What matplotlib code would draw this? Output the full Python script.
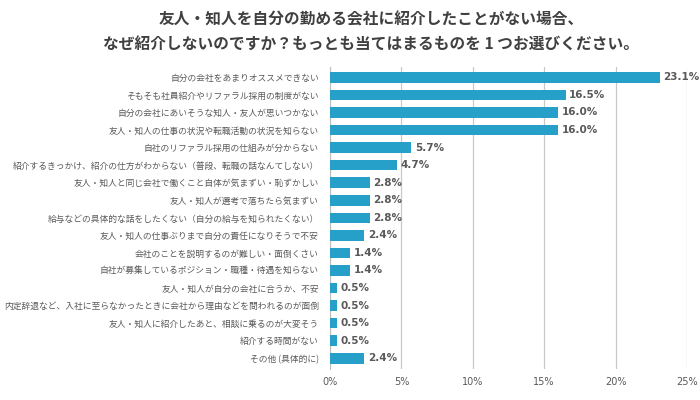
import matplotlib
matplotlib.use("Agg")
import matplotlib.pyplot as plt
from matplotlib.ticker import FuncFormatter

plt.rcParams['font.family'] = ['Noto Sans CJK JP', 'DejaVu Sans']

categories = [
    "自分の会社をあまりオススメできない",
    "そもそも社員紹介やリファラル採用の制度がない",
    "自分の会社にあいそうな知人・友人が思いつかない",
    "友人・知人の仕事の状況や転職活動の状況を知らない",
    "自社のリファラル採用の仕組みが分からない",
    "紹介するきっかけ、紹介の仕方がわからない（普段、転職の話なんてしない）",
    "友人・知人と同じ会社で働くこと自体が気まずい・恥ずかしい",
    "友人・知人が選考で落ちたら気まずい",
    "給与などの具体的な話をしたくない（自分の給与を知られたくない）",
    "友人・知人の仕事ぶりまで自分の責任になりそうで不安",
    "会社のことを説明するのが難しい・面倒くさい",
    "自社が募集しているポジション・職種・待遇を知らない",
    "友人・知人が自分の会社に合うか、不安",
    "内定辞退など、入社に至らなかったときに会社から理由などを問われるのが面倒",
    "友人・知人に紹介したあと、相談に乗るのが大変そう",
    "紹介する時間がない",
    "その他 (具体的に)",
]
values = [23.1, 16.5, 16.0, 16.0, 5.7, 4.7, 2.8, 2.8, 2.8, 2.4, 1.4, 1.4, 0.5, 0.5, 0.5, 0.5, 2.4]
xticks = [0, 5, 10, 15, 20, 25]
title = "友人・知人を自分の勤める会社に紹介したことがない場合、\nなぜ紹介しないのですか？もっとも当てはまるものを 1 つお選びください。"

bar_color = "#26A0C8"
text_color = "#595959"

fig = plt.figure(figsize=(7, 4), dpi=100)
ax = fig.add_axes([0.4714, 0.078, 0.51, 0.755])

y = list(range(len(categories)))
ax.barh(y, values, height=0.6, color=bar_color, zorder=3)
ax.set_yticks(y)
ax.set_yticklabels(categories, fontsize=6.3, color=text_color)
ax.set_ylim(len(categories) - 0.4, -0.6)
ax.set_xlim(0, 25)
ax.set_xticks(xticks)
ax.xaxis.set_major_formatter(FuncFormatter(lambda v, p: f"{int(v)}%"))
for lbl in ax.get_xticklabels():
    lbl.set_fontfamily('DejaVu Sans')
ax.tick_params(axis='x', labelsize=7, colors=text_color, length=0, pad=6)
ax.tick_params(axis='y', length=0, pad=8)
ax.grid(axis='x', color="#C8C8C8", linewidth=0.9, zorder=0)
for s in ['top', 'right', 'bottom']:
    ax.spines[s].set_visible(False)
ax.spines['left'].set_color("#BFBFBF")

for yi, v in zip(y, values):
    ax.text(v + 0.25, yi, f"{v:.1f}%", va='center', ha='left', fontsize=7.5,
            fontweight='bold', color=text_color, family='DejaVu Sans', zorder=4)

fig.text(0.53, 0.92, title, ha='center', va='center', fontsize=11.3,
         fontweight='bold', color="#404040", linespacing=1.7)

fig.savefig("out.png", dpi=100)
